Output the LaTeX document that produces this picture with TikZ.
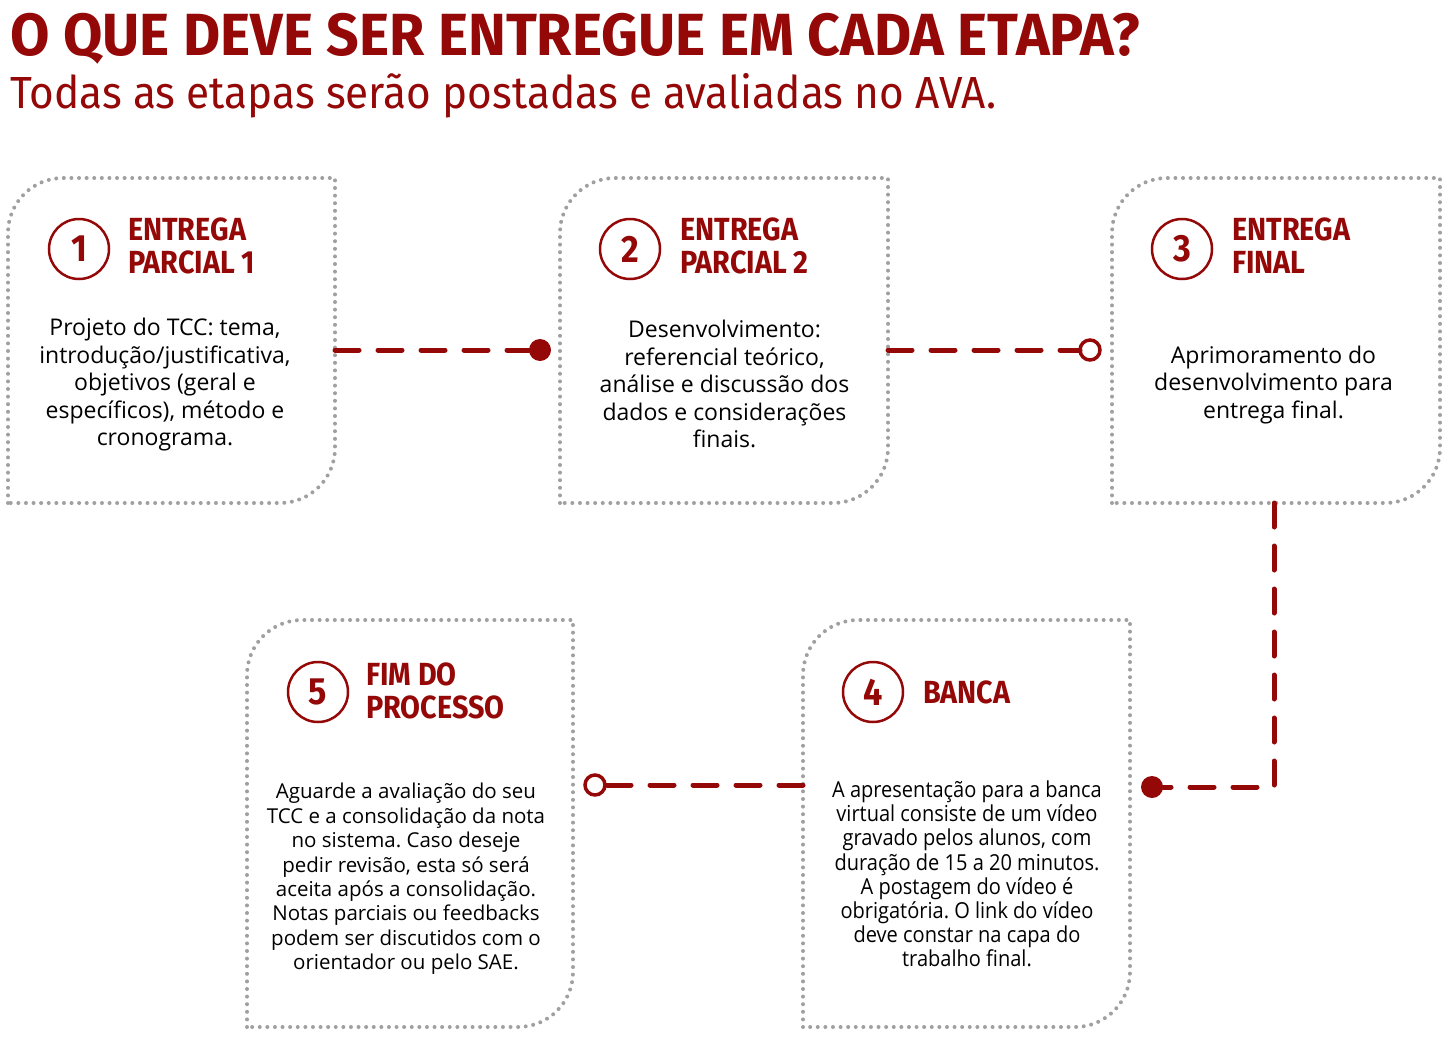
\documentclass[tikz,border=0pt]{standalone}
\usepackage{fontspec}
\setmainfont{Open Sans}
\newfontfamily\titlefont[FakeStretch=0.96]{Fira Sans}
\newfontfamily\headfont[FakeStretch=0.9]{Fira Sans}
\newfontfamily\subfont[FakeStretch=0.94]{Fira Sans}
\newfontfamily\condfont[FakeStretch=0.91]{Open Sans}
\definecolor{tccred}{RGB}{148,8,8}
\definecolor{dotgray}{RGB}{160,160,160}
\newcommand{\tccoutline}[1]{\draw[boxline] (#1.south west) -- ([yshift=-55pt]#1.north west) arc[start angle=180,end angle=90,radius=55pt] -- (#1.north east) -- ([yshift=55pt]#1.south east) arc[start angle=0,end angle=-90,radius=55pt] -- cycle;}
\frenchspacing
\begin{document}
\begin{tikzpicture}[x=1pt,y=-1pt,
  boxline/.style={draw=dotgray, line width=4pt, line cap=round, dash pattern=on 0pt off 7.6pt},
  boxarea/.style={inner sep=0pt, outer sep=0pt, minimum height=#1},
  conn/.style={draw=tccred, line width=5pt, line cap=round, dash pattern=on 24pt off 19pt},
  fdot/.style={circle, fill=tccred, minimum size=22pt, inner sep=0pt, outer sep=0pt},
  odot/.style={circle, draw=tccred, fill=white, line width=3.5pt, minimum size=20pt, inner sep=0pt, outer sep=0pt},
  badge/.style={circle, draw=tccred, line width=2.5pt, minimum size=60pt, inner sep=0pt, text=tccred, font=\headfont\bfseries\fontsize{38}{38}\selectfont},
  head/.style={anchor=west, align=left, text=tccred, font=\headfont\bfseries\fontsize{32}{33}\selectfont, inner sep=0pt},
  body/.style={align=center, inner sep=0pt, font=\fontsize{23}{27.5}\selectfont, text=black},
  bodysm/.style={align=center, inner sep=0pt, font=\fontsize{20.5}{24.4}\selectfont, text=black},
  bodycond/.style={align=center, inner sep=0pt, font=\condfont\fontsize{22}{24.2}\selectfont, text=black},
]
\useasboundingbox (0,0) rectangle (1446,1044);
% title
\node[anchor=base west, inner sep=0pt, text=tccred, font=\titlefont\bfseries\fontsize{59.5}{60}\selectfont] (title) at (10,55) {O QUE DEVE SER ENTREGUE EM CADA ETAPA?};
\node[anchor=base west, inner sep=0pt, text=tccred, font=\subfont\fontsize{45}{46}\selectfont] (subtitle) at (10,108) {Todas as etapas serão postadas e avaliadas no AVA.};
% boxes
\node[boxarea=325pt, minimum width=327pt] (b1) at (171.5,340.5) {};
\node[boxarea=325pt, minimum width=328pt] (b2) at (724,340.5) {};
\node[boxarea=325pt, minimum width=328pt] (b3) at (1276,340.5) {};
\node[boxarea=407pt, minimum width=326pt] (b5) at (410,823.5) {};
\node[boxarea=407pt, minimum width=327pt] (b4) at (966.5,823.5) {};
\tccoutline{b1}
\tccoutline{b2}
\tccoutline{b3}
\tccoutline{b5}
\tccoutline{b4}
% badges and headings
\node[badge] (n1) at (79,249) {1};
\node[head] (h1) at (128,245.5) {ENTREGA\\PARCIAL 1};
\node[badge] (n2) at (630,249) {2};
\node[head] (h2) at (680,245.5) {ENTREGA\\PARCIAL 2};
\node[badge] (n3) at (1182,249) {3};
\node[head] (h3) at (1232,245.5) {ENTREGA\\FINAL};
\node[badge] (n5) at (318,692) {5};
\node[head] (h5) at (366,691) {FIM DO\\PROCESSO};
\node[badge] (n4) at (873,692) {4};
\node[head] (h4) at (923,692) {BANCA};
% body texts
\node[body] (t1) at (165,385) {Projeto do TCC: tema,\\introdução/justificativa,\\objetivos (geral e\\específicos), método e\\cronograma.};
\node[body] (t2) at (724.5,384) {Desenvolvimento:\\referencial teórico,\\análise e discussão dos\\dados e considerações\\finais.};
\node[body] (t3) at (1273.5,385) {Aprimoramento do\\desenvolvimento para\\entrega final.};
\node[bodysm] (t5) at (406,879) {Aguarde a avaliação do seu\\TCC e a consolidação da nota\\no sistema. Caso deseje\\pedir revisão, esta só será\\aceita após a consolidação.\\Notas parciais ou feedbacks\\podem ser discutidos com o\\orientador ou pelo SAE.};
\node[bodycond] (t4) at (967,874) {A apresentação para a banca\\virtual consiste de um vídeo\\gravado pelos alunos, com\\duração de 15 a 20 minutos.\\A postagem do vídeo é\\obrigatória. O link do vídeo\\deve constar na capa do\\trabalho final.};
% connectors
\node[fdot] (d1) at (540,350) {};
\node[odot] (d2) at (1090,350) {};
\node[fdot] (d3) at (1152,787) {};
\node[odot] (d4) at (595,785) {};
\coordinate (k3) at (1274,787);
\draw[conn] (b1.east |- d1) -- (d1);
\draw[conn] (b2.east |- d2) -- (d2);
\draw[conn] (b3.south -| k3) -- (k3) -- (d3);
\draw[conn] (b4.west |- d4) -- (d4);
\end{tikzpicture}
\end{document}
